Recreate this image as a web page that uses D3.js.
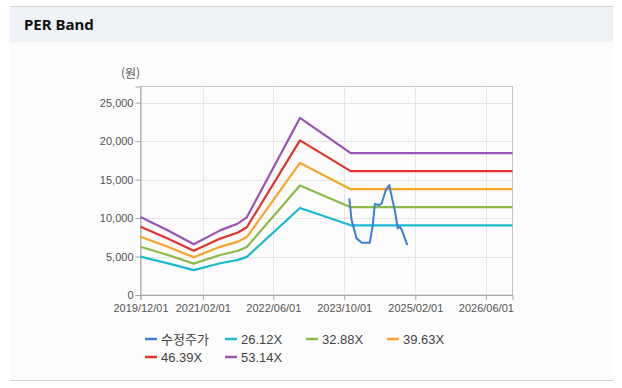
<!DOCTYPE html>
<html lang="ko">
<head>
<meta charset="UTF-8">
<title>PER Band</title>
<script src="https://d3js.org/d3.v7.min.js"></script>
<style>
  html, body { margin: 0; padding: 0; background: #fff; }
  body { width: 622px; height: 388px; overflow: hidden; }
  svg { display: block; font-family: "Liberation Sans", Arial, "Noto Sans CJK KR", sans-serif; }
  .tick-label { fill: #555; font-size: 11px; }
</style>
</head>
<body>
<svg id="chart" width="622" height="388"></svg>
<script>
// Band data (monthly keypoints)
const bandDates = ["2019-12-01", "2020-06-01", "2020-12-01", "2021-06-01", "2021-10-01",
                   "2021-12-01", "2022-12-01", "2023-11-15", "2026-12-01"];
const per26 = [4990, 4150, 3240, 4130, 4570, 4960, 11310, 9060, 9060];
const per32 = [6280, 5230, 4080, 5200, 5750, 6250, 14240, 11410, 11410];
const per39 = [7570, 6300, 4910, 6260, 6940, 7530, 17160, 13750, 13750];
const per46 = [8860, 7380, 5750, 7330, 8120, 8810, 20090, 16100, 16100];
const per53 = [10150, 8450, 6590, 8400, 9300, 10100, 23010, 18440, 18440];

// Adjusted price
const priceDates = ["2023-11-05", "2023-11-21", "2023-12-25", "2024-01-30", "2024-03-25",
                    "2024-04-13", "2024-04-29", "2024-05-28", "2024-06-15", "2024-07-13",
                    "2024-08-06", "2024-08-18", "2024-09-15", "2024-10-03", "2024-10-18",
                    "2024-11-01", "2024-12-08"];
const priceValues = [12560, 9740, 7360, 6790, 6790, 8870, 11820, 11690, 11900, 13640,
                     14290, 13210, 10820, 8660, 8870, 8440, 6490];

const seriesNames = ["수정주가", "26.12X", "32.88X", "39.63X", "46.39X", "53.14X"];
const seriesColors = ["#3f7fd6", "#1db9d0", "#8cbb4a", "#f7a62b", "#e0342c", "#9a55b4"];

const xTickLabels = ["2019/12/01", "2021/02/01", "2022/06/01", "2023/10/01", "2025/02/01", "2026/06/01"];
const yTickValues = [0, 5000, 10000, 15000, 20000, 25000];

const parse = d3.timeParse("%Y-%m-%d");
const parseTick = d3.timeParse("%Y/%m/%d");

const svg = d3.select("#chart");

// Panel
svg.append("rect").attr("x", 10).attr("y", 42).attr("width", 603).attr("height", 338).attr("fill", "#fcfcfc");
svg.append("rect").attr("x", 10).attr("y", 7).attr("width", 603).attr("height", 35).attr("fill", "#eff2f7");
svg.append("line").attr("x1", 10).attr("x2", 613).attr("y1", 6.5).attr("y2", 6.5).attr("stroke", "#d2d2d2");
svg.append("line").attr("x1", 10).attr("x2", 613).attr("y1", 380.5).attr("y2", 380.5).attr("stroke", "#d2d2d2");
svg.append("text").attr("x", 24).attr("y", 30)
  .attr("font-family", "'Noto Sans', 'Open Sans', sans-serif")
  .attr("font-weight", "bold").attr("font-size", 15).attr("fill", "#111")
  .text("PER Band");

// Scales
const plot = { left: 140.5, right: 512.5, top: 86.5, bottom: 295 };
const x = d3.scaleTime()
  .domain([parse("2019-12-01"), parse("2026-12-01")])
  .range([plot.left, plot.right]);
const y = d3.scaleLinear()
  .domain([0, 27100])
  .range([plot.bottom, plot.top]);

// Grid
const grid = svg.append("g");
grid.selectAll(".hg").data(yTickValues.slice(1)).enter().append("line")
  .attr("x1", plot.left).attr("x2", plot.right)
  .attr("y1", d => Math.round(y(d)) + 0.5).attr("y2", d => Math.round(y(d)) + 0.5)
  .attr("stroke", "#e6e6e6");
grid.selectAll(".vg").data(xTickLabels.slice(1)).enter().append("line")
  .attr("x1", d => Math.round(x(parseTick(d))) + 0.5).attr("x2", d => Math.round(x(parseTick(d))) + 0.5)
  .attr("y1", plot.top).attr("y2", plot.bottom)
  .attr("stroke", "#e6e6e6");

// Plot border
svg.append("rect")
  .attr("x", plot.left).attr("y", plot.top)
  .attr("width", plot.right - plot.left).attr("height", plot.bottom - plot.top)
  .attr("fill", "none").attr("stroke", "#c4c4c4");

// Axes
const yAxis = d3.axisLeft(y).tickValues(yTickValues).tickFormat(d3.format(",")).tickSize(5).tickPadding(2);
const xAxis = d3.axisBottom(x).tickValues(xTickLabels.map(parseTick)).tickFormat(d3.timeFormat("%Y/%m/%d")).tickSize(5).tickPadding(4);

const gy = svg.append("g").attr("transform", `translate(${plot.left},0)`).call(yAxis);
const gx = svg.append("g").attr("transform", `translate(0,${plot.bottom})`).call(xAxis);
[gx, gy].forEach(g => {
  g.select(".domain").attr("stroke", "#a8a8a8");
  g.selectAll(".tick line").attr("stroke", "#a8a8a8");
  g.selectAll(".tick text").attr("class", "tick-label")
    .attr("font-family", "'Liberation Sans', Arial, sans-serif").attr("font-size", 11).attr("fill", "#555");
});

svg.append("text").attr("x", 121).attr("y", 78)
  .attr("font-family", "'Noto Sans CJK KR', sans-serif").attr("font-size", 12).attr("fill", "#555")
  .text("(원)");

// Lines
const line = d3.line()
  .x(d => x(d[0]))
  .y(d => y(d[1]));

const bands = [per26, per32, per39, per46, per53];
bands.forEach((vals, i) => {
  svg.append("path")
    .datum(bandDates.map((d, j) => [parse(d), vals[j]]))
    .attr("fill", "none")
    .attr("stroke", seriesColors[i + 1])
    .attr("stroke-width", 2.2)
    .attr("stroke-linejoin", "round")
    .attr("d", line);
});

svg.append("path")
  .datum(priceDates.map((d, j) => [parse(d), priceValues[j]]))
  .attr("fill", "none")
  .attr("stroke", seriesColors[0])
  .attr("stroke-width", 2)
  .attr("stroke-linejoin", "round")
  .attr("d", line);

// Legend
const legendCols = [145, 225, 306, 387];
const legend = svg.append("g");
seriesNames.forEach((name, i) => {
  const lx = legendCols[i % 4];
  const ly = i < 4 ? 339 : 357;
  legend.append("line")
    .attr("x1", lx).attr("x2", lx + 12).attr("y1", ly).attr("y2", ly)
    .attr("stroke", seriesColors[i]).attr("stroke-width", 2.5);
  legend.append("text")
    .attr("x", lx + 16).attr("y", ly + 4.5)
    .attr("font-family", "'Liberation Sans', Arial, 'Noto Sans CJK KR', sans-serif")
    .attr("font-size", 13).attr("fill", "#444")
    .text(name);
});
</script>
</body>
</html>
